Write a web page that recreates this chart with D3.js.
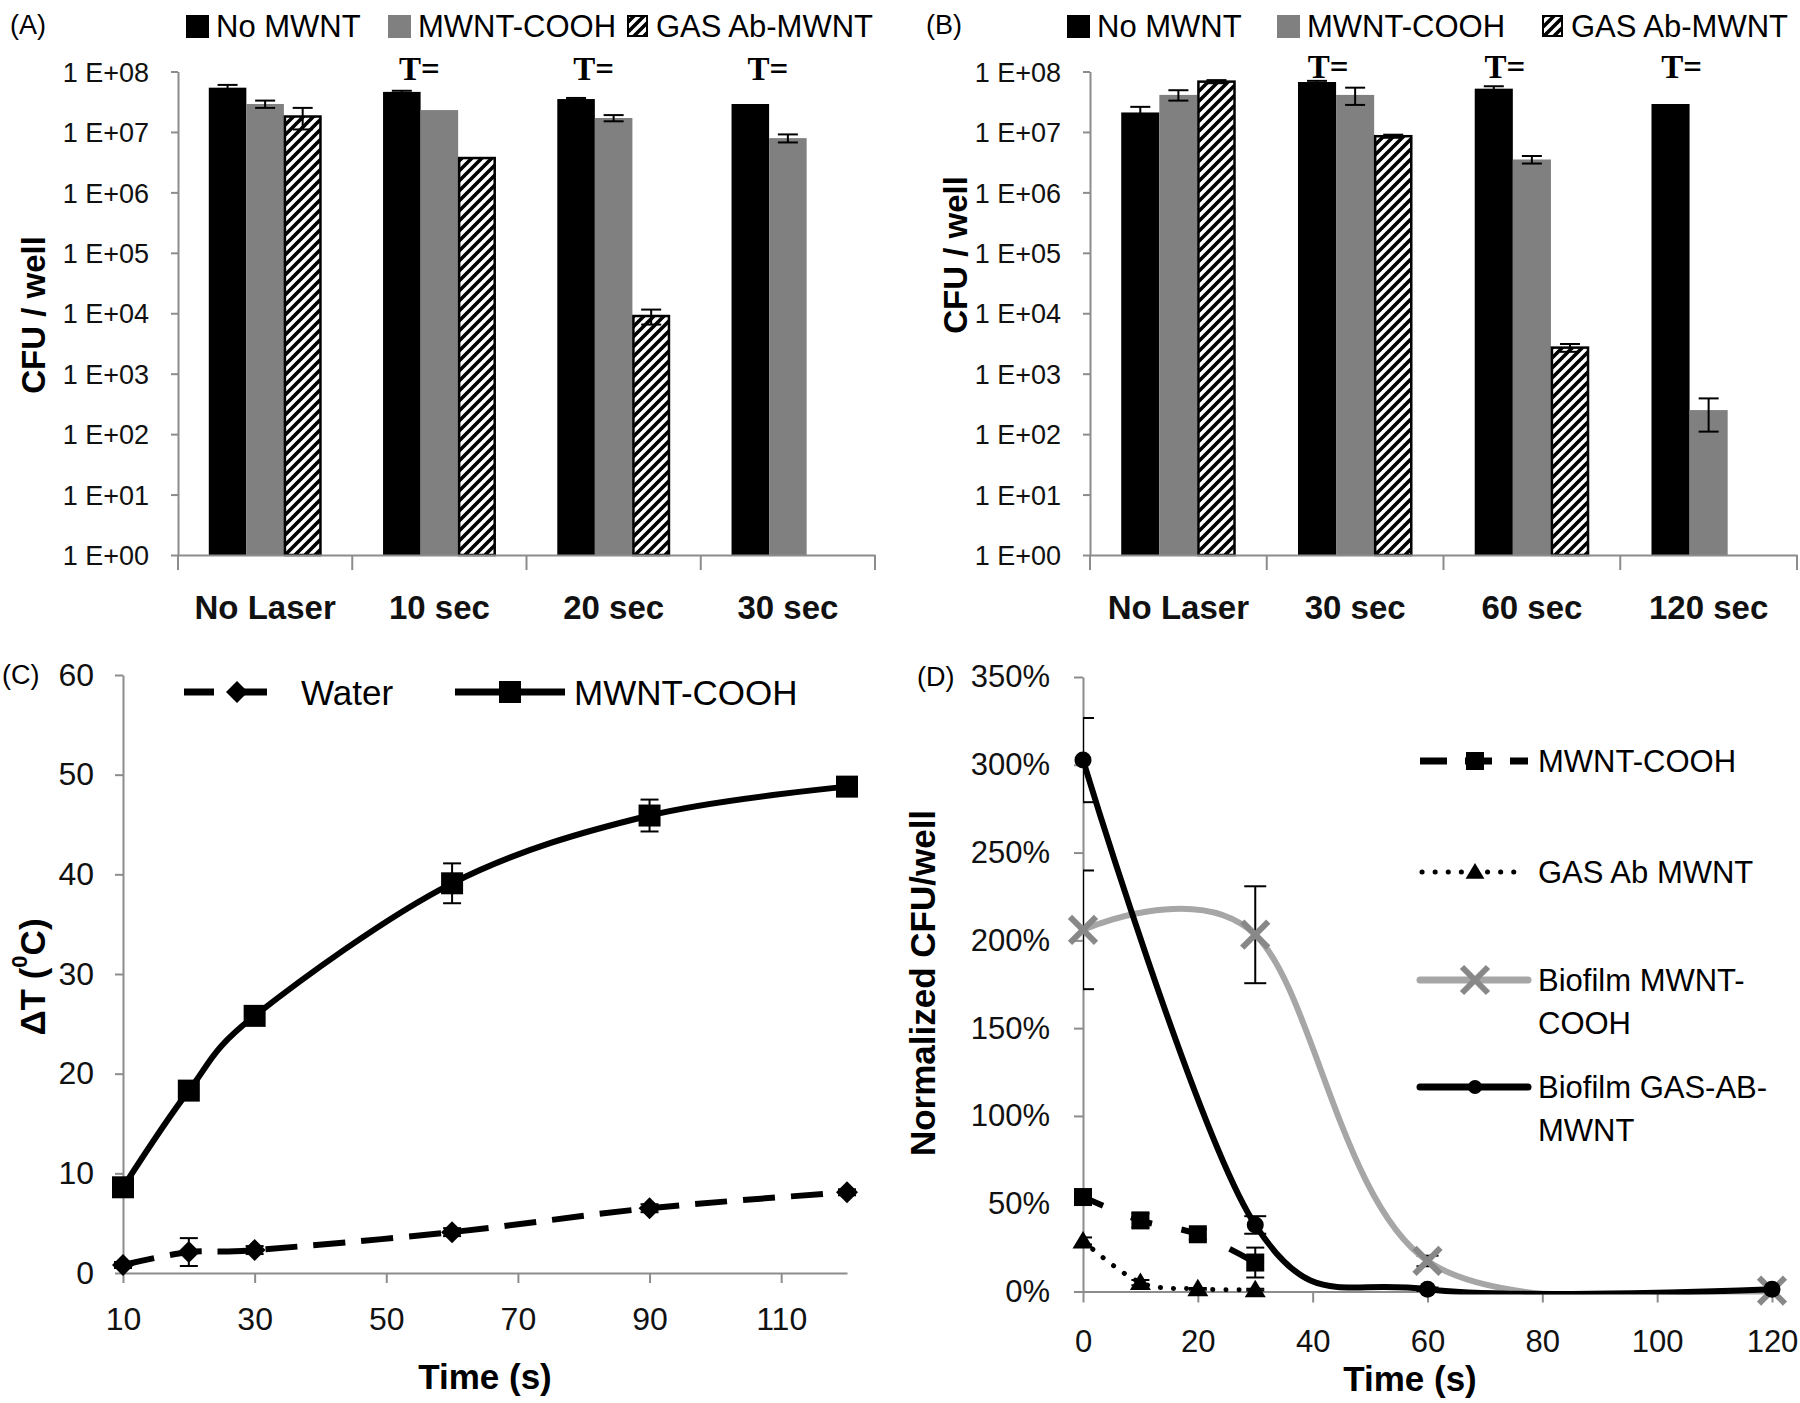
<!DOCTYPE html>
<html><head><meta charset="utf-8">
<script src="https://cdn.jsdelivr.net/npm/d3@7"></script>
<style>
body{margin:0;background:#fff;}
svg{display:block;background:#fff;}
</style></head><body>
<svg id="chart" width="1800" height="1403"></svg>
<script>
// ================= DATA =================
const barSeries = ["No MWNT", "MWNT-COOH", "GAS Ab-MWNT"];
const catsA = ["No Laser", "10 sec", "20 sec", "30 sec"];
const catsB = ["No Laser", "30 sec", "60 sec", "120 sec"];
const tLabelsA = ["", "T=", "T=", "T="];
const tLabelsB = ["", "T=", "T=", "T="];
const logTicks = [1, 1e1, 1e2, 1e3, 1e4, 1e5, 1e6, 1e7, 1e8];
const logTickLabels = ["1 E+00", "1 E+01", "1 E+02", "1 E+03", "1 E+04", "1 E+05", "1 E+06", "1 E+07", "1 E+08"];

// Panel A (CFU/well)
const aNoMWNT    = [5.4e7, 4.6e7, 3.5e7, 2.9e7];
const aNoMWNTErr = [6e6, 2e6, 1.5e6, 0];
const aCOOH      = [2.9e7, 2.3e7, 1.7e7, 7.9e6];
const aCOOHErr   = [4e6, 0, 2e6, 1.2e6];
const aGAS       = [1.8e7, 3.7e6, 9.0e3, null];
const aGASErr    = [7e6, 0, 2.5e3, 0];
// Panel B (CFU/well)
const bNoMWNT    = [2.1e7, 6.7e7, 5.2e7, 2.9e7];
const bNoMWNTErr = [5e6, 3e6, 5e6, 0];
const bCOOH      = [4.1e7, 4.1e7, 3.5e6, 2.5e2];
const bCOOHErr   = [8e6, 1.3e7, 5e5, 1.4e2];
const bGAS       = [6.8e7, 8.5e6, 2.7e3, null];
const bGASErr    = [4e6, 5e5, 4e2, 0];

// Panel C (delta T)
const timeC = [10, 20, 30, 60, 90, 120];
const waterC = [0.8, 2.1, 2.3, 4.1, 6.5, 8.1];
const waterCErr = [0.3, 1.4, 0.4, 0.4, 0.4, 0.3];
const mwntC = [8.6, 18.3, 25.8, 39.1, 45.9, 48.8];
const mwntCErr = [0.5, 0.6, 0.5, 2.0, 1.6, 0.8];
const ticksCy = [0, 10, 20, 30, 40, 50, 60];
const ticksCx = [10, 30, 50, 70, 90, 110];

// Panel D (normalized CFU/well, %)
const timeD = [0, 10, 20, 30];
const mwntD = [53.8, 40.5, 32.6, 16.5];
const mwntDErr = [3, 4, 3, 8.5];
const gasD = [28.8, 5.1, 1.5, 1.0];
const gasDErr = [2, 1.5, 0.5, 0.5];
const timeBio = [0, 30, 60, 120];
const bioMWNT = [206, 203.2, 17.4, 0.5];
const bioMWNTErr = [33.8, 27.6, 3, 0.5];
const bioGAS = [302.7, 37.9, 1.3, 1.3];
const bioGASErr = [24, 5, 1, 0.5];
const ticksDy = [0, 50, 100, 150, 200, 250, 300, 350];
const ticksDx = [0, 20, 40, 60, 80, 100, 120];

// ================= DRAWING =================
const FONT = '"Liberation Sans", Arial, sans-serif';
const AXIS = "#8c8c8c";
const svg = d3.select("#chart");
const defs = svg.append("defs");
const pat = defs.append("pattern").attr("id", "hatch").attr("patternUnits", "userSpaceOnUse")
  .attr("width", 10).attr("height", 10);
pat.append("rect").attr("width", 10).attr("height", 10).attr("fill", "#fff");
pat.append("path").attr("d", "M-2.5,2.5 L2.5,-2.5 M0,10 L10,0 M7.5,12.5 L12.5,7.5")
  .attr("stroke", "#000").attr("stroke-width", 3.6);

const barFills = ["#000000", "#808080", "url(#hatch)"];

function styleAxis(g, size) {
  g.attr("font-family", FONT).attr("font-size", size);
  g.select(".domain").attr("stroke", AXIS).attr("stroke-width", 2);
  g.selectAll(".tick line").attr("stroke", AXIS).attr("stroke-width", 2);
  g.selectAll(".tick text").attr("fill", "#111");
}

function txt(x, y, s, size, opts = {}) {
  const t = svg.append("text").attr("x", x).attr("y", y)
    .attr("font-family", opts.family || FONT).attr("font-size", size)
    .attr("font-weight", opts.bold ? "bold" : "normal")
    .attr("text-anchor", opts.anchor || "start")
    .attr("dominant-baseline", opts.baseline || "central")
    .attr("fill", opts.fill || "#000");
  if (opts.rotate) t.attr("transform", `rotate(-90,${x},${y})`);
  t.text(s);
  return t;
}

function drawBarPanel(o) {
  const g = svg.append("g");
  const x0 = d3.scaleBand().domain(o.cats).range(o.xr);
  const x1 = d3.scaleBand().domain(barSeries).range([0, x0.bandwidth()]).paddingInner(0).paddingOuter(0.82);
  const y = d3.scaleLog().domain([1, 1e8]).range(o.yr);

  // bars
  o.vals.forEach((arr, si) => {
    g.append("g").selectAll("rect").data(arr.map((v, ci) => ({ v, ci })).filter(d => d.v != null))
      .join("rect")
      .attr("x", d => x0(o.cats[d.ci]) + x1(barSeries[si]) + (si === 2 ? 1 : 0))
      .attr("y", d => y(d.v))
      .attr("width", x1.bandwidth() - (si === 2 ? 2 : 0))
      .attr("height", d => y(1) - y(d.v))
      .attr("fill", barFills[si])
      .attr("stroke", si === 2 ? "#000" : "none")
      .attr("stroke-width", 2.5);
  });
  // error bars
  o.vals.forEach((arr, si) => {
    arr.forEach((v, ci) => {
      const e = o.errs[si][ci];
      if (v == null || !e) return;
      const cx = x0(o.cats[ci]) + x1(barSeries[si]) + x1.bandwidth() / 2;
      const y1 = y(v + e), y2 = y(Math.max(v - e, 1.01));
      const eg = g.append("g").attr("stroke", "#000").attr("stroke-width", 2);
      eg.append("line").attr("x1", cx).attr("x2", cx).attr("y1", y1).attr("y2", y2);
      eg.append("line").attr("x1", cx - 10).attr("x2", cx + 10).attr("y1", y1).attr("y2", y1);
      eg.append("line").attr("x1", cx - 10).attr("x2", cx + 10).attr("y1", y2).attr("y2", y2);
    });
  });

  // y axis
  const ya = g.append("g").attr("transform", `translate(${o.xr[0]},0)`)
    .call(d3.axisLeft(y).tickValues(logTicks).tickFormat((d, i) => logTickLabels[i])
      .tickSize(7).tickSizeOuter(0).tickPadding(22));
  styleAxis(ya, 27);
  ya.selectAll(".tick text").attr("dy", "0.36em");

  // x axis (category)
  const xa = g.append("g").attr("transform", `translate(0,${y(1)})`)
    .call(d3.axisBottom(x0).tickSize(0).tickSizeOuter(0));
  styleAxis(xa, 33);
  xa.selectAll(".tick text").attr("font-weight", "bold").attr("y", 64).attr("dy", 0).attr("fill", "#111");
  const bounds = o.cats.map(c => x0(c)).concat([o.xr[1]]);
  xa.selectAll(".bnd").data(bounds).join("line").attr("class", "bnd")
    .attr("x1", d => d).attr("x2", d => d).attr("y1", 0).attr("y2", 15)
    .attr("stroke", AXIS).attr("stroke-width", 2);

  // T= labels
  o.tLabels.forEach((t, ci) => {
    if (!t) return;
    txt(x0(o.cats[ci]) + x0.bandwidth() / 2 - o.tOff, o.tY, t, 33,
      { family: '"Liberation Serif", "Times New Roman", serif', bold: true, anchor: "middle", baseline: "auto" });
  });

  // y label
  txt(o.ylab[0], o.ylab[1], "CFU / well", 33, { bold: true, anchor: "middle", rotate: true });

  // legend
  barSeries.forEach((s, si) => {
    const lx = o.legX[si], ly = 26;
    svg.append("rect").attr("x", lx + (si === 2 ? 2 : 0)).attr("y", ly - 11 + (si === 2 ? 1 : 0))
      .attr("width", si === 2 ? 19 : 23).attr("height", si === 2 ? 20 : 23)
      .attr("fill", barFills[si]).attr("stroke", si === 2 ? "#000" : "none").attr("stroke-width", 2);
    txt(lx + 30, ly, s, 31);
  });

  // panel letter
  txt(o.letter[1], o.letter[2], o.letter[0], 27);
}

drawBarPanel({
  cats: catsA, xr: [178, 875], yr: [555, 71.5],
  vals: [aNoMWNT, aCOOH, aGAS], errs: [aNoMWNTErr, aCOOHErr, aGASErr],
  tLabels: tLabelsA, tOff: 20, tY: 80,
  ylab: [33, 315], legX: [186, 388, 626], letter: ["(A)", 10, 25]
});
drawBarPanel({
  cats: catsB, xr: [1090, 1797], yr: [555, 71.5],
  vals: [bNoMWNT, bCOOH, bGAS], errs: [bNoMWNTErr, bCOOHErr, bGASErr],
  tLabels: tLabelsB, tOff: 27, tY: 78,
  ylab: [955, 255], legX: [1067, 1277, 1541], letter: ["(B)", 926, 25]
});

// ---------- Panel C ----------
const curve = d3.curveCardinal.tension(0);
function diamondPath(r) { return `M0,${-r}L${r},0L0,${r}L${-r},0Z`; }
function squarePath(h) { return `M${-h},${-h}H${h}V${h}H${-h}Z`; }
function triPath(h) { return `M0,${-h}L${h * 1.05},${h * 0.75}L${-h * 1.05},${h * 0.75}Z`; }

function errBars(g, xs, ys, es, xS, yS, cap) {
  xs.forEach((t, i) => {
    const e = es[i]; if (!e) return;
    const cx = xS(t), y1 = yS(ys[i] + e), y2 = yS(ys[i] - e);
    const eg = g.append("g").attr("stroke", "#000").attr("stroke-width", 2);
    eg.append("line").attr("x1", cx).attr("x2", cx).attr("y1", y1).attr("y2", y2);
    eg.append("line").attr("x1", cx - cap).attr("x2", cx + cap).attr("y1", y1).attr("y2", y1);
    eg.append("line").attr("x1", cx - cap).attr("x2", cx + cap).attr("y1", y2).attr("y2", y2);
  });
}

(function () {
  const g = svg.append("g");
  const x = d3.scaleLinear().domain([10, 120]).range([123, 847]);
  const y = d3.scaleLinear().domain([0, 60]).range([1273, 675]);
  const ya = g.append("g").attr("transform", `translate(${x(10)},0)`)
    .call(d3.axisLeft(y).tickValues(ticksCy).tickSize(8).tickSizeOuter(0).tickPadding(21));
  styleAxis(ya, 32);
  const xa = g.append("g").attr("transform", `translate(0,${y(0)})`)
    .call(d3.axisBottom(x).tickValues(ticksCx).tickSize(10).tickSizeOuter(0).tickPadding(24));
  styleAxis(xa, 32);

  const line = d3.line().curve(curve).x((d, i) => x(timeC[i])).y(d => y(d));
  errBars(g, timeC, waterC, waterCErr, x, y, 9);
  errBars(g, timeC, mwntC, mwntCErr, x, y, 9);
  g.append("path").attr("d", line(waterC)).attr("fill", "none").attr("stroke", "#000")
    .attr("stroke-width", 6).attr("stroke-dasharray", "32,16");
  g.append("path").attr("d", line(mwntC)).attr("fill", "none").attr("stroke", "#000").attr("stroke-width", 6);
  g.selectAll(".dm").data(waterC).join("path").attr("class", "dm")
    .attr("d", diamondPath(11)).attr("transform", (d, i) => `translate(${x(timeC[i])},${y(d)})`).attr("fill", "#000");
  g.selectAll(".sq").data(mwntC).join("path").attr("class", "sq")
    .attr("d", squarePath(11)).attr("transform", (d, i) => `translate(${x(timeC[i])},${y(d)})`).attr("fill", "#000");

  // legend
  const ly = 692;
  g.append("line").attr("x1", 184).attr("x2", 290).attr("y1", ly).attr("y2", ly)
    .attr("stroke", "#000").attr("stroke-width", 7).attr("stroke-dasharray", "30,23");
  g.append("path").attr("d", diamondPath(11)).attr("transform", `translate(237,${ly})`);
  txt(301, ly, "Water", 35);
  g.append("line").attr("x1", 455).attr("x2", 565).attr("y1", ly).attr("y2", ly)
    .attr("stroke", "#000").attr("stroke-width", 7);
  g.append("path").attr("d", squarePath(11)).attr("transform", `translate(510,${ly})`);
  txt(574, ly, "MWNT-COOH", 35);

  // labels
  const yl = txt(32, 977, "", 35, { bold: true, anchor: "middle", rotate: true });
  yl.append("tspan").text("ΔT (");
  yl.append("tspan").attr("font-size", 22).attr("baseline-shift", "super").text("0");
  yl.append("tspan").text("C)");
  txt(485, 1376, "Time (s)", 35, { bold: true, anchor: "middle" });
  txt(2, 675, "(C)", 27);
})();

// ---------- Panel D ----------
(function () {
  const g = svg.append("g");
  const x = d3.scaleLinear().domain([0, 120]).range([1083, 1772]);
  const y = d3.scaleLinear().domain([0, 350]).range([1291.5, 677]);
  defs.append("clipPath").attr("id", "clipD").append("rect")
    .attr("x", x(0)).attr("y", y(350)).attr("width", x(120) - x(0)).attr("height", y(0) - y(350) + 3);

  const ya = g.append("g").attr("transform", `translate(${x(0)},0)`)
    .call(d3.axisLeft(y).tickValues(ticksDy).tickFormat(d => d + "%").tickSize(9).tickSizeOuter(0).tickPadding(24));
  styleAxis(ya, 31);
  const xa = g.append("g").attr("transform", `translate(0,${y(0)})`)
    .call(d3.axisBottom(x).tickValues(ticksDx).tickSize(11).tickSizeOuter(0).tickPadding(27));
  styleAxis(xa, 31);

  const cl = g.append("g").attr("clip-path", "url(#clipD)");
  errBars(cl, timeBio, bioGAS, bioGASErr, x, y, 11);
  errBars(cl, timeBio, bioMWNT, bioMWNTErr, x, y, 11);
  errBars(cl, timeD, mwntD, mwntDErr, x, y, 9);
  errBars(cl, timeD, gasD, gasDErr, x, y, 9);

  const lineBio = d3.line().curve(curve).x((d, i) => x(timeBio[i])).y(d => y(d));
  const lineD = d3.line().curve(curve).x((d, i) => x(timeD[i])).y(d => y(d));
  cl.append("path").attr("d", lineBio(bioMWNT)).attr("fill", "none").attr("stroke", "#a6a6a6").attr("stroke-width", 6);
  cl.append("path").attr("d", lineBio(bioGAS)).attr("fill", "none").attr("stroke", "#000").attr("stroke-width", 6);
  cl.append("path").attr("d", lineD(mwntD)).attr("fill", "none").attr("stroke", "#000")
    .attr("stroke-width", 6).attr("stroke-dasharray", "22,30");
  cl.append("path").attr("d", lineD(gasD)).attr("fill", "none").attr("stroke", "#000")
    .attr("stroke-width", 5).attr("stroke-linecap", "round").attr("stroke-dasharray", "0.1,13");

  function xMark(sel) {
    sel.append("path").attr("d", "M-13,-13L13,13M-13,13L13,-13").attr("stroke", "#888").attr("stroke-width", 6).attr("fill", "none");
  }
  timeBio.forEach((t, i) => {
    const m = g.append("g").attr("transform", `translate(${x(t)},${y(bioMWNT[i])})`); xMark(m);
  });
  g.selectAll(".cir").data(bioGAS).join("circle").attr("class", "cir")
    .attr("cx", (d, i) => x(timeBio[i])).attr("cy", d => y(d)).attr("r", 8.5).attr("fill", "#000");
  g.selectAll(".sqd").data(mwntD).join("path").attr("class", "sqd")
    .attr("d", squarePath(9)).attr("transform", (d, i) => `translate(${x(timeD[i])},${y(d)})`).attr("fill", "#000");
  g.selectAll(".tri").data(gasD).join("path").attr("class", "tri")
    .attr("d", triPath(10)).attr("transform", (d, i) => `translate(${x(timeD[i])},${y(d)})`).attr("fill", "#000");

  // legend
  const lx1 = 1420, lx2 = 1528, mx = 1475, tx = 1538;
  const L = [761, 872, 980, 1087];
  g.append("line").attr("x1", lx1).attr("x2", lx2).attr("y1", L[0]).attr("y2", L[0])
    .attr("stroke", "#000").attr("stroke-width", 7).attr("stroke-dasharray", "27,18");
  g.append("path").attr("d", squarePath(9)).attr("transform", `translate(${mx},${L[0]})`);
  txt(tx, L[0], "MWNT-COOH", 31);
  g.append("line").attr("x1", lx1 + 2).attr("x2", lx2 - 10).attr("y1", L[1]).attr("y2", L[1])
    .attr("stroke", "#000").attr("stroke-width", 5).attr("stroke-linecap", "round").attr("stroke-dasharray", "0.1,13");
  g.append("path").attr("d", triPath(9)).attr("transform", `translate(${mx},${L[1]})`);
  txt(tx, L[1], "GAS Ab MWNT", 31);
  g.append("line").attr("x1", lx1).attr("x2", lx2).attr("y1", L[2]).attr("y2", L[2])
    .attr("stroke", "#a6a6a6").attr("stroke-width", 7).attr("stroke-linecap", "round");
  xMark(g.append("g").attr("transform", `translate(${mx},${L[2]})`));
  txt(tx, L[2], "Biofilm MWNT-", 31);
  txt(tx, L[2] + 43, "COOH", 31);
  g.append("line").attr("x1", lx1).attr("x2", lx2).attr("y1", L[3]).attr("y2", L[3])
    .attr("stroke", "#000").attr("stroke-width", 7).attr("stroke-linecap", "round");
  g.append("circle").attr("cx", mx).attr("cy", L[3]).attr("r", 7);
  txt(tx, L[3], "Biofilm GAS-AB-", 31);
  txt(tx, L[3] + 43, "MWNT", 31);

  txt(922, 983, "Normalized CFU/well", 35, { bold: true, anchor: "middle", rotate: true });
  txt(1410, 1378, "Time (s)", 35, { bold: true, anchor: "middle" });
  txt(917, 677, "(D)", 27);
})();
</script>
</body></html>
